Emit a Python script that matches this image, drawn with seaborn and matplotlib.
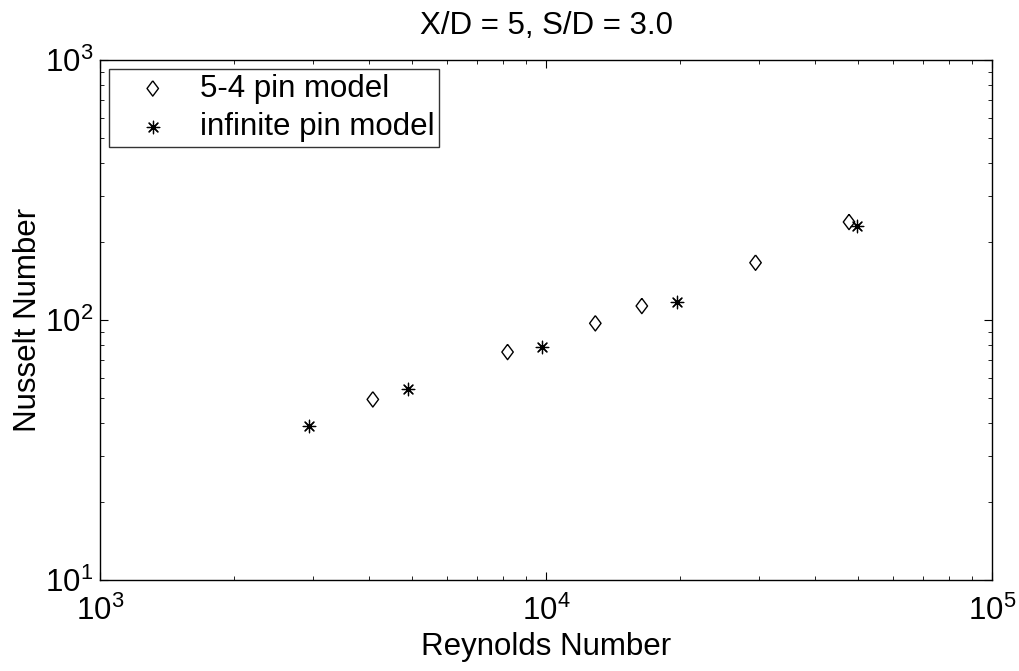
import numpy as np
import pandas as pd
import matplotlib
matplotlib.use("Agg")
import matplotlib.pyplot as plt
import seaborn as sns

# Data
re_54 = [4090, 8200, 12900, 16400, 29500, 47800]
nu_54 = [49.5, 75.3, 97.1, 113.2, 166.1, 238.2]
re_inf = [2940, 4900, 9810, 19700, 49900]
nu_inf = [39.1, 54.3, 78.7, 117.0, 230.5]
series_names = ["5-4 pin model", "infinite pin model"]
title_text = "X/D = 5, S/D = 3.0"
xlabel_text = "Reynolds Number"
ylabel_text = "Nusselt Number"

sns.set_theme(style="white")
plt.rcParams['font.family'] = ['Liberation Sans', 'DejaVu Sans']
plt.rcParams['mathtext.fontset'] = 'custom'
plt.rcParams['mathtext.rm'] = 'Liberation Sans'
plt.rcParams['mathtext.it'] = 'Liberation Sans:italic'
plt.rcParams['text.color'] = 'black'

fig = plt.figure(figsize=(10.19, 6.71), dpi=100)
ax = fig.add_axes([100/1019, 1-580/671, 892/1019, 520/671])

df54 = pd.DataFrame({"Re": re_54, "Nu": nu_54})
dfinf = pd.DataFrame({"Re": re_inf, "Nu": nu_inf})

diamond = [(0, 1), (0.75, 0), (0, -1), (-0.75, 0), (0, 1)]
sns.scatterplot(data=df54, x="Re", y="Nu", ax=ax, marker=diamond, s=11**2,
                facecolors='none', edgecolor='black', linewidth=1.0,
                label=series_names[0])
sns.scatterplot(data=dfinf, x="Re", y="Nu", ax=ax, marker=(8, 2, 0), s=9**2,
                color='black', edgecolor='black', linewidth=0.9,
                label=series_names[1])

ax.set_xscale('log')
ax.set_yscale('log')
ax.set_xlim(1e3, 1e5)
ax.set_ylim(1e1, 1e3)

for sp in ax.spines.values():
    sp.set_color('black')
    sp.set_linewidth(1.0)

ax.tick_params(which='both', direction='in', top=True, right=True,
               bottom=True, left=True, colors='black')
ax.tick_params(which='major', length=6, width=0.8, labelsize=22.5)
ax.tick_params(axis='x', which='major', pad=11)
ax.tick_params(axis='y', which='major', pad=5)
ax.tick_params(which='minor', length=3, width=0.6)

ax.set_xlabel(xlabel_text, fontsize=22.5, color='black', labelpad=4)
ax.set_ylabel(ylabel_text, fontsize=22.5, color='black', labelpad=1.5)
ax.set_title(title_text, fontsize=22.5, color='black', pad=19)

leg = ax.legend(loc='upper left', bbox_to_anchor=(9/892, 1-9/520),
                borderaxespad=0, fontsize=22.5, frameon=True, fancybox=False,
                handletextpad=0.25, borderpad=0.15, labelspacing=0.28,
                handlelength=2.5)
leg.get_frame().set_edgecolor('black')
leg.get_frame().set_linewidth(1.0)
for t in leg.get_texts():
    t.set_color('black')

fig.savefig("out.png", dpi=100)
